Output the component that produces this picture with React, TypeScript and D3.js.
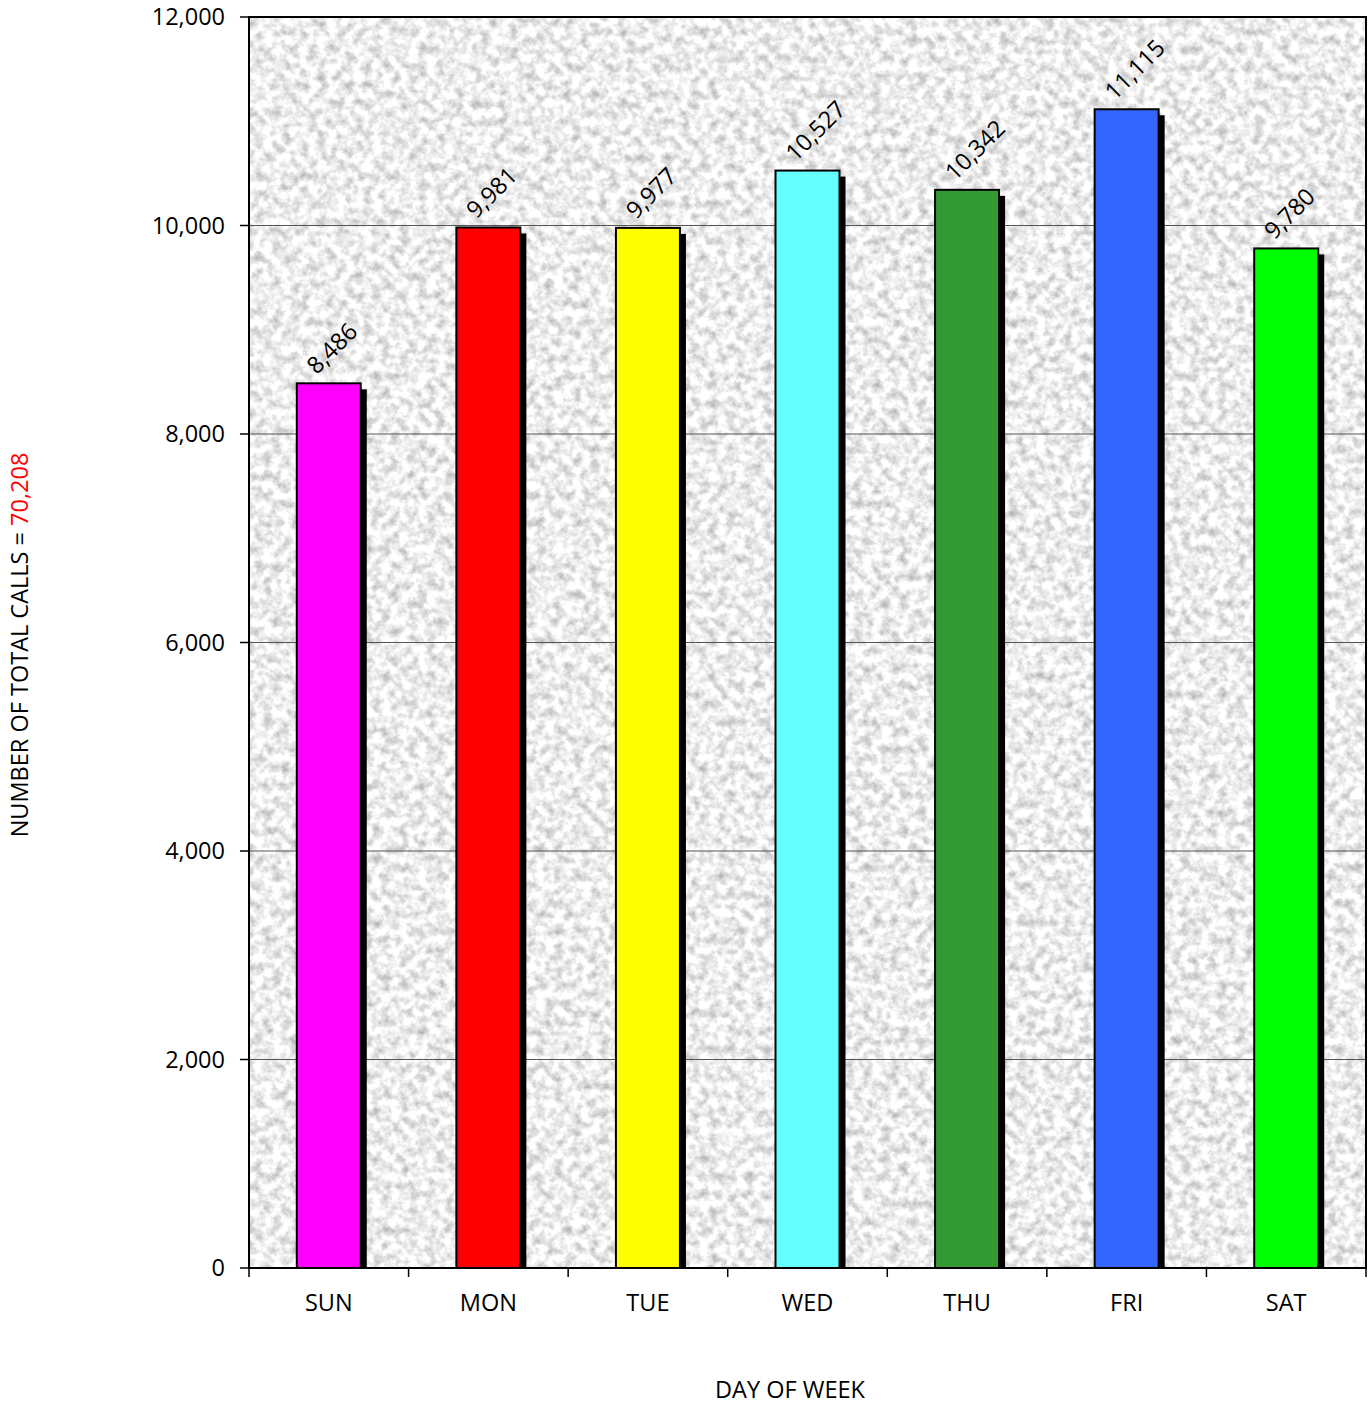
import React from "react";
import * as d3 from "d3";

const days = ["SUN", "MON", "TUE", "WED", "THU", "FRI", "SAT"];
const calls = [8486, 9981, 9977, 10527, 10342, 11115, 9780];
const barColors = ["#FF00FF", "#FF0000", "#FFFF00", "#66FFFF", "#339933", "#3366FF", "#00FF00"];
const yTicks = [0, 2000, 4000, 6000, 8000, 10000, 12000];
const totalCalls = "70,208";

const W = 1372;
const H = 1406;
const left = 249;
const right = 1366;
const top = 17;
const bottom = 1268;
const FONT = "'Open Sans', 'Noto Sans', sans-serif";

export default function App() {
  const x = d3.scaleBand<string>().domain(days).range([left, right]).paddingInner(0).paddingOuter(0);
  const y = d3.scaleLinear().domain([0, 12000]).range([bottom, top]);
  const fmt = d3.format(",");
  const bw = 64;
  const boundaries = days.map((d) => x(d) as number).concat([right]);

  return (
    <svg width={W} height={H} style={{ position: "absolute", left: 0, top: 0, background: "#fff" }}>
      <defs>
        <filter id="granite" x="0" y="0" width="100%" height="100%" colorInterpolationFilters="sRGB">
          <feTurbulence type="fractalNoise" baseFrequency="0.11" numOctaves={5} seed={7} result="n" />
          <feColorMatrix
            in="n"
            type="matrix"
            values="0.55 0 0 0 0.655  0.55 0 0 0 0.655  0.55 0 0 0 0.655  0 0 0 0 1"
          />
        </filter>
        <clipPath id="plotClip">
          <rect x={left} y={top} width={right - left} height={bottom - top} />
        </clipPath>
      </defs>

      {/* textured plot background */}
      <rect x={left} y={top} width={right - left} height={bottom - top} filter="url(#granite)" fill="#eee" />

      {/* gridlines */}
      {yTicks
        .filter((t) => t > 0 && t < 12000)
        .map((t) => (
          <line key={t} x1={left} x2={right} y1={y(t)} y2={y(t)} stroke="#555" strokeWidth={1.2} />
        ))}

      {/* bars */}
      <g clipPath="url(#plotClip)">
        {days.map((d, i) => {
          const cx = (x(d) as number) + x.bandwidth() / 2;
          const bx = cx - bw / 2;
          const by = y(calls[i]);
          return (
            <g key={d}>
              <rect x={bx + 6} y={by + 6} width={bw} height={bottom - by} fill="#000" />
              <rect x={bx} y={by} width={bw} height={bottom - by} fill={barColors[i]} stroke="#000" strokeWidth={2} />
            </g>
          );
        })}
      </g>

      {/* value labels */}
      {days.map((d, i) => {
        const cx = (x(d) as number) + x.bandwidth() / 2;
        const by = y(calls[i]);
        const tx = cx - 12;
        const ty = by - 8;
        return (
          <text
            key={d}
            x={tx}
            y={ty}
            transform={`rotate(-45 ${tx} ${ty})`}
            fontFamily={FONT}
            fontSize={23.5}
            fill="#000"
          >
            {fmt(calls[i])}
          </text>
        );
      })}

      {/* frame */}
      <rect x={left} y={top} width={right - left} height={bottom - top} fill="none" stroke="#000" strokeWidth={2} />

      {/* y ticks and labels */}
      {yTicks.map((t) => (
        <g key={t}>
          <line x1={left - 9} x2={left} y1={y(t)} y2={y(t)} stroke="#000" strokeWidth={1.5} />
          <text x={225} y={y(t)} dy="0.35em" textAnchor="end" fontFamily={FONT} fontSize={23.5} fill="#000">
            {fmt(t)}
          </text>
        </g>
      ))}

      {/* x ticks */}
      {boundaries.map((b, i) => (
        <line key={i} x1={b} x2={b} y1={bottom} y2={bottom + 9} stroke="#000" strokeWidth={1.5} />
      ))}

      {/* x labels */}
      {days.map((d) => (
        <text
          key={d}
          x={(x(d) as number) + x.bandwidth() / 2}
          y={1311}
          textAnchor="middle"
          fontFamily={FONT}
          fontSize={23.5}
          fill="#000"
        >
          {d}
        </text>
      ))}

      {/* axis titles */}
      <text x={790} y={1398} textAnchor="middle" fontFamily={FONT} fontSize={23.5} fill="#000">
        DAY OF WEEK
      </text>
      <text
        x={28}
        y={645}
        transform="rotate(-90 28 645)"
        textAnchor="middle"
        fontFamily={FONT}
        fontSize={23.5}
        fill="#000"
      >
        NUMBER OF TOTAL CALLS = <tspan fill="#FF0000">{totalCalls}</tspan>
      </text>
    </svg>
  );
}
